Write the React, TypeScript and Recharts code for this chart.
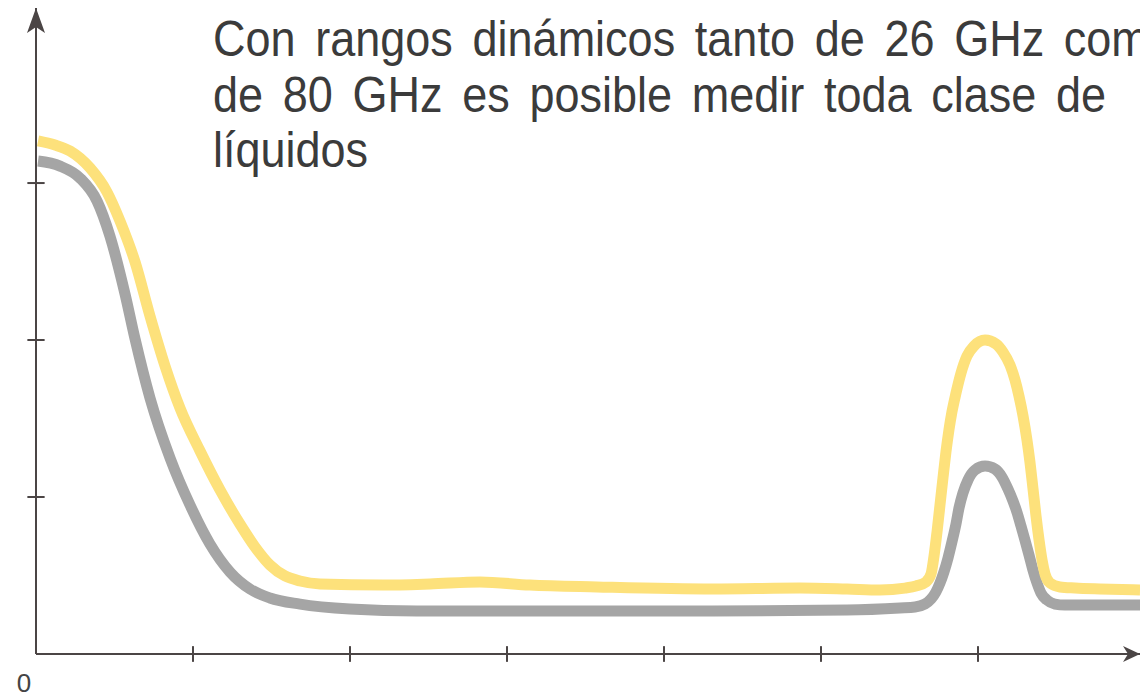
import { LineChart, Line, XAxis, YAxis, ReferenceLine, ReferenceDot } from "recharts";

// one unit on either axis is 157px in the reference
const X_MAX = 7.032;
const Y_MAX = 4.115;

const yellowX = [
  0.013, 0.121, 0.217, 0.344, 0.452, 0.535, 0.631, 0.726, 0.822, 0.917,
  1.045, 1.172, 1.299, 1.395, 1.49, 1.586, 1.682, 1.809, 2.21, 2.51,
  2.828, 3.146, 3.573, 4.312, 4.866, 5.166, 5.376, 5.535, 5.605, 5.669,
  5.701, 5.72, 5.739, 5.758, 5.777, 5.796, 5.815, 5.834, 5.86, 5.892,
  5.93, 5.975, 6.045, 6.115, 6.159, 6.204, 6.236, 6.261, 6.287, 6.312,
  6.331, 6.35, 6.369, 6.389, 6.408, 6.427, 6.459, 6.522, 6.618, 6.777,
  7.032,
];
const yellowY = [
  3.268, 3.242, 3.204, 3.096, 2.943, 2.758, 2.497, 2.153, 1.834, 1.567,
  1.293, 1.045, 0.828, 0.682, 0.567, 0.497, 0.465, 0.446, 0.439, 0.446,
  0.459, 0.439, 0.427, 0.414, 0.42, 0.414, 0.408, 0.42, 0.433, 0.459,
  0.51, 0.624, 0.777, 0.949, 1.121, 1.287, 1.427, 1.541, 1.662, 1.79,
  1.898, 1.962, 2.0, 1.975, 1.924, 1.841, 1.745, 1.643, 1.516, 1.363,
  1.223, 1.057, 0.885, 0.726, 0.599, 0.51, 0.452, 0.427, 0.42, 0.414,
  0.408,
];

const grayX = [
  0.013, 0.153, 0.28, 0.389, 0.471, 0.567, 0.631, 0.726, 0.854, 0.981,
  1.108, 1.236, 1.363, 1.49, 1.682, 2.0, 2.427, 3.592, 4.312, 5.166,
  5.503, 5.599, 5.662, 5.701, 5.732, 5.758, 5.783, 5.809, 5.834, 5.86,
  5.879, 5.904, 5.936, 5.981, 6.045, 6.108, 6.153, 6.191, 6.223, 6.248,
  6.274, 6.299, 6.325, 6.35, 6.376, 6.401, 6.439, 6.49, 6.554, 7.032,
];
const grayY = [
  3.14, 3.108, 3.032, 2.885, 2.662, 2.293, 2.006, 1.631, 1.248, 0.949,
  0.701, 0.522, 0.414, 0.357, 0.318, 0.287, 0.274, 0.274, 0.274, 0.28,
  0.293, 0.299, 0.318, 0.35, 0.395, 0.452, 0.522, 0.611, 0.713, 0.828,
  0.93, 1.025, 1.108, 1.172, 1.197, 1.178, 1.127, 1.051, 0.975, 0.904,
  0.815, 0.726, 0.631, 0.535, 0.452, 0.389, 0.344, 0.318, 0.312, 0.312,
];

const xTicks = [1, 2, 3, 4, 5, 6];
const yTicks = [1, 2, 3];
const originLabel = "0";
const titleLines = [
  "Con rangos dinámicos tanto de 26 GHz como",
  "de 80 GHz es posible medir toda clase de",
  "líquidos",
];

const axisColor = "#4b4545";
const yellow = "#fde17b";
const gray = "#a5a5a5";

const yellowData = yellowX.map((x, i) => ({ x, y: yellowY[i] }));
const grayData = grayX.map((x, i) => ({ x, y: grayY[i] }));

const UpArrow = (props: any) => {
  const { cx, cy } = props;
  return (
    <path
      d={`M${cx},${cy} L${cx + 9},${cy + 25} L${cx},${cy + 19} L${cx - 9},${cy + 25} Z`}
      fill={axisColor}
    />
  );
};

const RightArrow = (props: any) => {
  const { cx, cy } = props;
  return (
    <path
      d={`M${cx},${cy} L${cx - 17},${cy - 8} L${cx - 12},${cy} L${cx - 17},${cy + 8} Z`}
      fill={axisColor}
    />
  );
};

const OriginText = (props: any) => {
  const { cx, cy } = props;
  return (
    <text
      x={cx - 12}
      y={cy + 38}
      textAnchor="middle"
      fontFamily="Liberation Sans, Arial, sans-serif"
      fontSize={26}
      fill="#444"
    >
      {originLabel}
    </text>
  );
};

export default function App() {
  return (
    <div
      style={{
        position: "absolute",
        left: 0,
        top: 0,
        width: 1140,
        height: 699,
        overflow: "hidden",
        background: "#fff",
      }}
    >
      <LineChart
        width={1140}
        height={699}
        margin={{ top: 8, right: 0, bottom: 45, left: 36 }}
      >
        <XAxis type="number" dataKey="x" domain={[0, X_MAX]} hide allowDataOverflow />
        <YAxis type="number" dataKey="y" domain={[0, Y_MAX]} hide allowDataOverflow />

        <ReferenceLine x={0} stroke={axisColor} strokeWidth={2} ifOverflow="visible" />
        <ReferenceLine y={0} stroke={axisColor} strokeWidth={2} ifOverflow="visible" />
        {xTicks.map((t) => (
          <ReferenceLine
            key={`xt${t}`}
            segment={[
              { x: t, y: -0.05 },
              { x: t, y: 0.05 },
            ]}
            stroke={axisColor}
            strokeWidth={2}
            ifOverflow="visible"
          />
        ))}
        {yTicks.map((t) => (
          <ReferenceLine
            key={`yt${t}`}
            segment={[
              { x: -0.055, y: t },
              { x: 0.055, y: t },
            ]}
            stroke={axisColor}
            strokeWidth={2}
            ifOverflow="visible"
          />
        ))}
        <ReferenceDot x={0} y={Y_MAX} ifOverflow="visible" shape={UpArrow} />
        <ReferenceDot x={X_MAX} y={0} ifOverflow="visible" shape={RightArrow} />
        <ReferenceDot x={0} y={0} ifOverflow="visible" shape={OriginText} />

        <Line
          data={grayData}
          dataKey="y"
          type="monotone"
          stroke={gray}
          strokeWidth={11}
          dot={false}
          isAnimationActive={false}
        />
        <Line
          data={yellowData}
          dataKey="y"
          type="monotone"
          stroke={yellow}
          strokeWidth={11}
          dot={false}
          isAnimationActive={false}
        />
      </LineChart>

      {/* title: narrow glyphs, a bit of extra word spacing */}
      <div
        style={{
          position: "absolute",
          left: 213,
          top: 12,
          fontFamily: "'Liberation Sans', Arial, sans-serif",
          fontSize: 50,
          lineHeight: "55.5px",
          color: "#3b3b3b",
          whiteSpace: "nowrap",
          wordSpacing: 8,
          transform: "scaleX(0.9)",
          transformOrigin: "0 0",
        }}
      >
        {titleLines.map((line) => (
          <div key={line}>{line}</div>
        ))}
      </div>
    </div>
  );
}
